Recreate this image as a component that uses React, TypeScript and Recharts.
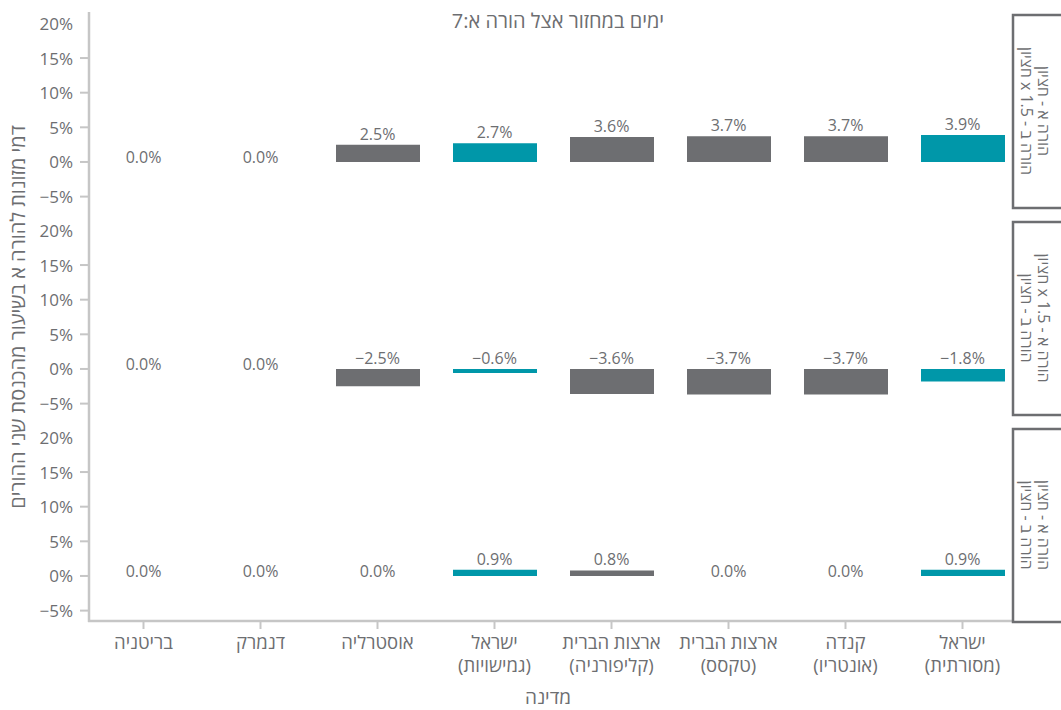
import React from "react";
import { ComposedChart, Bar, Line, XAxis, YAxis, Cell, LabelList } from "recharts";

// categories (RTL labels, "\n" splits the tick into two lines)
const countries = [
  "בריטניה",
  "דנמרק",
  "אוסטרליה",
  "ישראל\n(גמישויות)",
  "ארצות הברית\n(קליפורניה)",
  "ארצות הברית\n(טקסס)",
  "קנדה\n(אונטריו)",
  "ישראל\n(מסורתית)",
];

// one array per facet row
const rowMedianVs15 = [0, 0, 2.5, 2.7, 3.6, 3.7, 3.7, 3.9];
const row15VsMedian = [0, 0, -2.5, -0.6, -3.6, -3.7, -3.7, -1.8];
const rowMedianVsMedian = [0, 0, 0, 0.9, 0.8, 0, 0, 0.9];

const yTicks = [-5, 0, 5, 10, 15, 20];

const stripLabels = [
  ["הורה א - חציון", "הורה ב - 1.5 x חציון"],
  ["הורה א - 1.5 x חציון", "הורה ב - חציון"],
  ["הורה א - חציון", "הורה ב - חציון"],
];

const title = "ימים במחזור אצל הורה א:7";
const yTitle = "דמי מזונות להורה א בשיעור מהכנסת שני ההורים";
const xTitle = "מדינה";

const GREY = "#6d6e71";
const TEAL = "#0097a9";
const AXIS = "#c6c6c6";
const FONT = '"Open Sans", "DejaVu Sans", sans-serif';

const PANEL_H = 194;
const PANEL_TOPS = [13, 220, 427];

const pct = (v: number, digits = 0) =>
  `${v < 0 ? "\u2212" : ""}${Math.abs(v).toFixed(digits)}%`;

const PctTick = (props: any) => {
  const { y, payload } = props;
  return (
    <g>
      <text x={73} y={y} textAnchor="end" dominantBaseline="central" fontSize={17} fill={GREY}>
        {pct(payload.value)}
      </text>
      {payload.value !== 20 && (
        <line x1={80} x2={88} y1={y} y2={y} stroke={AXIS} strokeWidth={2} />
      )}
    </g>
  );
};

const CountryTick = (props: any) => {
  const { x, y, payload } = props;
  const lines = String(payload.value).split("\n");
  return (
    <g>
      <line x1={x} x2={x} y1={y} y2={y + 8} stroke={AXIS} strokeWidth={2} />
      {lines.map((l, i) => (
        <text
          key={i}
          x={x}
          y={y + 20 + i * 23}
          textAnchor="middle"
          dominantBaseline="central"
          direction="rtl"
          style={{ direction: "rtl" }}
          fontSize={18.5}
          fill={GREY}
        >
          {l}
        </text>
      ))}
    </g>
  );
};

// label sits on an invisible line through max(value, 0), so zero bars get one too
const BarLabel = (props: any) => {
  const { x, y, value } = props;
  if (value == null || y == null) return null;
  const v = Number(value);
  const cy = v === 0 ? Number(y) - 5 : Number(y) - 11;
  return (
    <text x={Number(x)} y={cy} textAnchor="middle" dominantBaseline="central" fontSize={16} fill={GREY}>
      {pct(v, 1)}
    </text>
  );
};

function Panel({ values, top, showX }: { values: number[]; top: number; showX: boolean }) {
  const data = countries.map((c, i) => ({
    name: c,
    value: values[i],
    anchor: Math.max(values[i], 0),
  }));
  return (
    <div style={{ position: "absolute", left: 0, top }}>
      <ComposedChart
        width={1021}
        height={PANEL_H + (showX ? 60 : 0)}
        data={data}
        margin={{ top: 0, right: 0, bottom: 0, left: 0 }}
      >
        <XAxis
          dataKey="name"
          hide={!showX}
          height={60}
          axisLine={false}
          tickLine={false}
          tickSize={0}
          tickMargin={0}
          interval={0}
          tick={<CountryTick />}
        />
        <YAxis
          domain={[-6.5, 21.5]}
          ticks={yTicks}
          allowDataOverflow
          interval={0}
          width={85}
          axisLine={false}
          tickLine={false}
          tick={<PctTick />}
        />
        <Bar dataKey="value" barSize={84} isAnimationActive={false}>
          {data.map((d, i) => (
            <Cell key={i} fill={d.name.startsWith("ישראל") ? TEAL : GREY} />
          ))}
        </Bar>
        <Line
          dataKey="anchor"
          stroke="none"
          dot={false}
          activeDot={false}
          isAnimationActive={false}
        >
          <LabelList dataKey="value" content={<BarLabel />} />
        </Line>
      </ComposedChart>
    </div>
  );
}

export default function App() {
  const rows = [rowMedianVs15, row15VsMedian, rowMedianVsMedian];
  return (
    <div
      style={{
        position: "absolute",
        left: 0,
        top: 0,
        width: 1061,
        height: 710,
        overflow: "hidden",
        background: "#fff",
        fontFamily: FONT,
      }}
    >
      {rows.map((r, i) => (
        <Panel key={i} values={r} top={PANEL_TOPS[i]} showX={i === rows.length - 1} />
      ))}
      <svg
        width={1061}
        height={710}
        style={{ position: "absolute", left: 0, top: 0, pointerEvents: "none", fontFamily: FONT }}
      >
        <line x1={89} x2={89} y1={12} y2={622} stroke={AXIS} strokeWidth={2.5} />
        <line x1={88} x2={1012} y1={621} y2={621} stroke={AXIS} strokeWidth={2.5} />
        <text x={558} y={20} textAnchor="middle" dominantBaseline="central" fontSize={20} fill={GREY} style={{ direction: "rtl" }}>
          {title}
        </text>
        <text
          x={17}
          y={317}
          textAnchor="middle"
          dominantBaseline="central"
          fontSize={20}
          fill={GREY}
          transform="rotate(-90 17 317)"
          style={{ direction: "rtl" }}
        >
          {yTitle}
        </text>
        <text x={548} y={697} textAnchor="middle" dominantBaseline="central" fontSize={19} fill={GREY} style={{ direction: "rtl" }}>
          {xTitle}
        </text>
        {stripLabels.map((lines, i) => {
          const y0 = PANEL_TOPS[i] + 2;
          const cy = y0 + 96;
          return (
            <g key={i}>
              <rect x={1013} y={y0} width={60} height={193} fill="#fff" stroke={GREY} strokeWidth={2.5} />
              {lines.map((l, j) => {
                const cx = 1044 - j * 17;
                return (
                  <text
                    key={j}
                    x={cx}
                    y={cy}
                    textAnchor="middle"
                    dominantBaseline="central"
                    fontSize={16}
                    fill={GREY}
                    transform={`rotate(90 ${cx} ${cy})`}
                    style={{ direction: "rtl" }}
                  >
                    {l}
                  </text>
                );
              })}
            </g>
          );
        })}
      </svg>
    </div>
  );
}
